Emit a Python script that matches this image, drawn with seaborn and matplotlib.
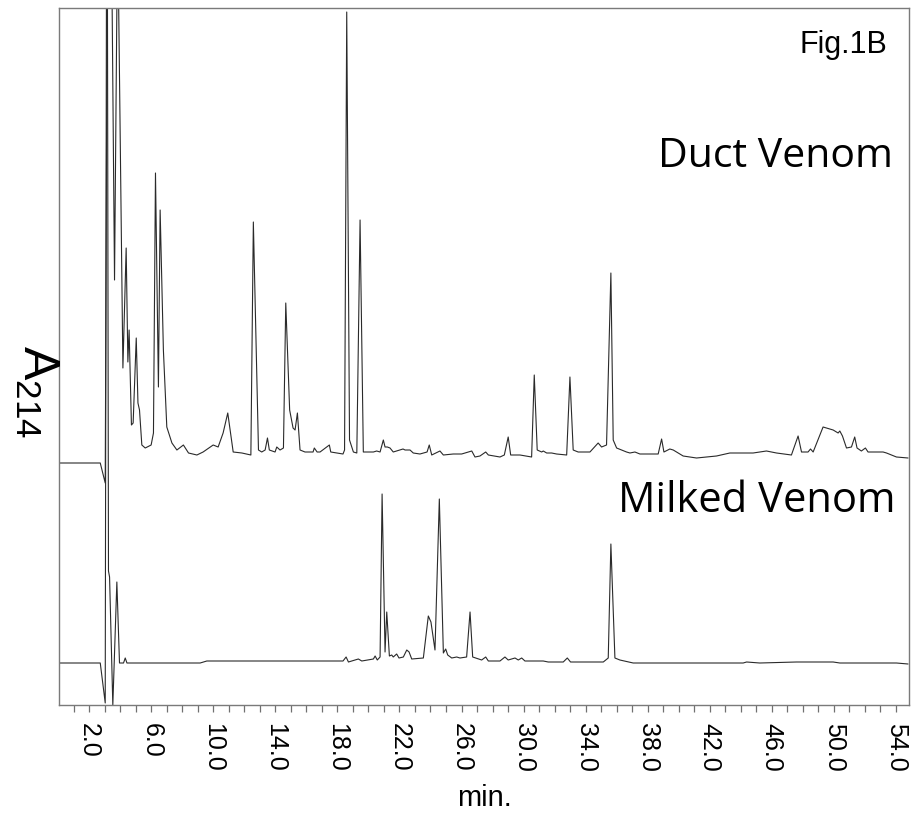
import pandas as pd
import matplotlib
matplotlib.use("Agg")
import matplotlib.pyplot as plt
import seaborn as sns

# retention time (min) and absorbance (arbitrary units, baseline ~0)
duct_time = [0.00, 2.71, 3.03, 3.25, 3.63, 3.83, 4.17, 4.38, 4.49, 4.57, 4.72, 4.83,
             5.03, 5.14, 5.24, 5.39, 5.61, 5.99, 6.14, 6.27, 6.46, 6.57, 6.78, 7.00,
             7.33, 7.65, 8.07, 8.40, 8.94, 9.34, 9.99, 10.31, 10.63, 10.93, 11.08, 11.28,
             11.84, 12.42, 12.58, 12.91, 13.12, 13.34, 13.49, 13.61, 13.98, 14.09, 14.30, 14.52,
             14.67, 14.92, 15.14, 15.27, 15.42, 15.59, 15.91, 16.43, 16.51, 16.69, 16.88, 17.48,
             17.57, 18.36, 18.46, 18.60, 18.78, 19.03, 19.25, 19.46, 19.67, 20.32, 20.53, 20.75,
             20.96, 21.07, 21.22, 21.39, 21.60, 22.23, 22.36, 22.68, 22.89, 23.32, 23.78, 23.92,
             24.08, 24.61, 24.83, 25.47, 26.01, 26.66, 26.87, 27.19, 27.56, 27.73, 28.48, 28.76,
             29.01, 29.17, 29.77, 30.52, 30.69, 30.88, 31.17, 31.27, 31.49, 31.81, 32.13, 32.78,
             32.99, 33.20, 33.52, 34.28, 34.81, 35.03, 35.35, 35.63, 35.78, 36.00, 36.64, 36.86,
             37.18, 37.50, 38.68, 38.90, 39.05, 39.43, 39.65, 40.29, 41.15, 42.44, 43.30, 44.80,
             45.66, 46.31, 47.27, 47.70, 47.92, 48.34, 48.50, 48.67, 49.31, 49.96, 50.28, 50.39,
             50.56, 50.82, 51.14, 51.35, 51.50, 51.78, 52.04, 52.21, 53.18, 53.40, 54.04, 54.79]
duct_abs = [0, 0, -20, 858, 183, 546, 95, 215, 101, 133, 38, 40,
            125, 60, 53, 18, 15, 18, 30, 290, 76, 253, 113, 36,
            20, 13, 18, 10, 8, 11, 18, 16, 30, 50, 33, 11,
            10, 8, 241, 13, 11, 13, 25, 13, 11, 16, 13, 15,
            160, 53, 35, 33, 50, 13, 11, 11, 15, 11, 11, 18,
            11, 9, 13, 451, 23, 11, 10, 243, 11, 11, 12, 11,
            23, 16, 16, 15, 11, 14, 13, 13, 10, 9, 11, 18,
            8, 12, 8, 9, 9, 12, 6, 7, 11, 8, 6, 8,
            26, 8, 8, 6, 88, 13, 11, 12, 10, 10, 9, 8,
            86, 13, 11, 11, 20, 16, 18, 190, 23, 15, 11, 10,
            11, 9, 9, 24, 11, 14, 13, 7, 5, 7, 10, 10,
            12, 10, 8, 27, 11, 11, 14, 11, 36, 33, 30, 32,
            27, 15, 16, 26, 15, 12, 15, 11, 11, 10, 6, 5]

milked_time = [0.00, 1.63, 2.71, 3.03, 3.14, 3.24, 3.31, 3.52, 3.78, 3.95, 4.21, 4.32,
               4.43, 9.15, 9.58, 10.44, 13.02, 15.14, 18.36, 18.56, 18.71, 19.35, 19.57, 20.32,
               20.43, 20.57, 20.75, 20.88, 21.07, 21.18, 21.35, 21.50, 21.60, 21.82, 21.97, 22.25,
               22.47, 22.62, 22.79, 23.54, 23.86, 24.03, 24.29, 24.57, 24.83, 24.98, 25.11, 25.37,
               25.69, 25.90, 26.33, 26.55, 26.72, 27.30, 27.56, 27.73, 28.48, 28.80, 29.01, 29.45,
               29.66, 29.88, 30.09, 31.27, 31.59, 32.56, 32.82, 33.03, 35.14, 35.46, 35.63, 35.89,
               36.21, 37.07, 44.16, 44.38, 45.23, 47.60, 49.96, 50.39, 51.24, 54.04, 54.79]
milked_abs = [0, 0, 0, -40, 958, 92, 86, -42, 81, 0, 0, 5,
              0, 0, 2, 2, 2, 2, 2, 6, 1, 4, 2, 4,
              7, 3, 6, 169, 11, 51, 7, 8, 6, 9, 5, 6,
              13, 11, 4, 5, 47, 41, 13, 164, 10, 14, 8, 5,
              6, 5, 6, 51, 6, 3, 6, 2, 2, 6, 3, 5,
              3, 5, 2, 2, 1, 1, 5, 1, 1, 5, 119, 5,
              3, 0, 0, 1, 0, 1, 1, 0, 0, 0, -1]

major_ticks = [2, 6, 10, 14, 18, 22, 26, 30, 34, 38, 42, 46, 50, 54]
tick_labels = ["%.1f" % t for t in major_ticks]

sns.set_style("white")
plt.rcParams["font.family"] = ["Liberation Sans", "DejaVu Sans"]
plt.rcParams["text.color"] = "black"
plt.rcParams["axes.labelcolor"] = "black"
plt.rcParams["xtick.color"] = "black"
plt.rcParams["mathtext.fontset"] = "custom"
plt.rcParams["mathtext.rm"] = "Liberation Sans"
plt.rcParams["mathtext.it"] = "Liberation Sans"

duct = pd.DataFrame({"min": duct_time, "A214": duct_abs})
milked = pd.DataFrame({"min": milked_time, "A214": milked_abs})
# stack the two runs
duct["A214"] = duct["A214"] + 242
milked["A214"] = milked["A214"] + 42

fig = plt.figure(figsize=(9.14, 8.15), dpi=100)
ax = fig.add_axes([59 / 914, 110 / 815, 850 / 914, 697 / 815])

line_kw = dict(color="#2a2a2a", linewidth=0.8, estimator=None, sort=False, legend=False)
sns.lineplot(data=duct, x="min", y="A214", ax=ax, **line_kw)
sns.lineplot(data=milked, x="min", y="A214", ax=ax, **line_kw)

ax.set_xlim(0.05, 54.85)
ax.set_ylim(0, 697)
ax.set_yticks([])
ax.set_xticks(major_ticks)
ax.set_xticks(range(1, 55), minor=True)
ax.set_xticklabels(tick_labels, rotation=-90, fontsize=18)
ax.tick_params(axis="x", which="both", direction="out", length=5, width=0.9,
               color="#707070", labelcolor="black", bottom=True, pad=8)
for s in ax.spines.values():
    s.set_color("#7a7a7a")
    s.set_linewidth(1.0)

ax.set_xlabel("min.", fontsize=21, labelpad=9, color="black")
ax.set_ylabel("")
fig.text(37 / 914, 1 - 392 / 815, r"A$_{214}$", rotation=-90, fontsize=36,
         ha="center", va="center", color="black")

ax.text(0.975, 0.935, "Fig.1B", transform=ax.transAxes, ha="right", va="baseline",
        fontsize=22, color="black")
ax.text(0.981, 0.772, "Duct Venom", transform=ax.transAxes, ha="right", va="baseline",
        fontsize=29.5, family="Open Sans", color="black")
ax.text(0.984, 0.277, "Milked Venom", transform=ax.transAxes, ha="right", va="baseline",
        fontsize=30, family="Open Sans", color="black")

fig.savefig("out.png", dpi=100)
